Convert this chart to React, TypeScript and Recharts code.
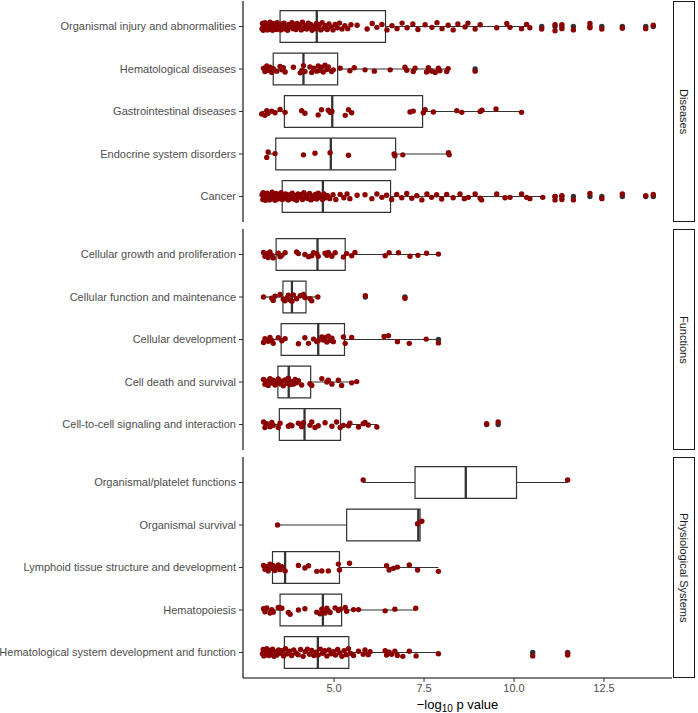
import React from 'react';
import { ComposedChart, Scatter, XAxis, YAxis, ReferenceArea, ReferenceLine } from 'recharts';

type Pt = [number, number];

// ---------- categories ----------
const diseaseCats = [
  'Organismal injury and abnormalities',
  'Hematological diseases',
  'Gastrointestinal diseases',
  'Endocrine system disorders',
  'Cancer',
];
const functionCats = [
  'Cellular growth and proliferation',
  'Cellular function and maintenance',
  'Cellular development',
  'Cell death and survival',
  'Cell-to-cell signaling and interaction',
];
const physioCats = [
  'Organismal/platelet functions',
  'Organismal survival',
  'Lymphoid tissue structure and development',
  'Hematopoiesis',
  'Hematological system development and function',
];

const facetLabels = ['Diseases', 'Functions', 'Physiological Systems'];
const xTicks = [5, 7.5, 10, 12.5];

// ---------- box statistics [lower whisker, q1, median, q3, upper whisker] ----------
const diseaseStats = [
  [3.0, 3.5, 4.52, 6.43, 10.44],
  [3.04, 3.31, 4.15, 5.1, 8.17],
  [2.99, 3.62, 4.95, 7.46, 10.21],
  [3.13, 3.38, 4.91, 6.71, 8.2],
  [3.0, 3.56, 4.69, 6.57, 10.8],
];
const functionStats = [
  [3.04, 3.39, 4.54, 5.31, 7.9],
  [3.04, 3.58, 3.83, 4.22, 4.55],
  [3.04, 3.53, 4.56, 5.29, 7.9],
  [3.04, 3.44, 3.74, 4.35, 5.63],
  [3.04, 3.48, 4.18, 5.18, 6.19],
];
const physioStats = [
  [5.81, 7.25, 8.66, 10.07, 11.49],
  [3.43, 5.35, 7.34, 7.39, 7.39],
  [3.04, 3.29, 3.64, 5.15, 7.9],
  [3.04, 3.5, 4.69, 5.21, 7.27],
  [3.01, 3.62, 4.55, 5.41, 7.9],
];

// ---------- boxplot outliers ----------
const diseaseOut = [
  [10.77, 11.14, 11.33, 11.65, 12.11, 12.44, 13.01, 13.66, 13.87],
  [8.92],
  [],
  [],
  [11.14, 11.33, 11.65, 12.11, 12.44, 13.01, 13.66, 13.87],
];
const functionOut = [[], [5.87, 6.97], [7.9], [], [9.24, 9.56]];
const physioOut = [[], [], [], [], [10.52, 11.49]];

// ---------- jittered points [value, vertical jitter] ----------
const injuryPts: Pt[] = [
  [3.0, 0.05], [3.01, -0.07], [3.03, 0.09], [3.04, -0.02], [3.06, 0.03], [3.08, -0.09], [3.09, 0.07], [3.11, -0.04],
  [3.13, 0.01], [3.15, 0.08], [3.17, -0.06], [3.19, 0.04], [3.22, -0.1], [3.24, 0.06], [3.27, -0.03], [3.29, 0.09],
  [3.31, -0.07], [3.34, 0.02], [3.37, -0.05], [3.4, 0.07], [3.42, -0.09], [3.45, 0.04], [3.48, -0.01], [3.52, 0.08],
  [3.55, -0.06], [3.58, 0.03], [3.61, -0.08], [3.64, 0.06], [3.68, -0.02], [3.71, 0.09], [3.75, -0.05], [3.79, 0.01],
  [3.83, -0.09], [3.86, 0.05], [3.9, -0.03], [3.94, 0.07], [3.97, -0.07], [4.01, 0.02], [4.05, -0.04], [4.09, 0.08],
  [4.12, -0.1], [4.16, 0.04], [4.2, -0.02], [4.24, 0.06], [4.28, -0.08], [4.31, 0.03], [4.35, -0.05], [4.39, 0.09],
  [4.43, -0.01], [4.47, 0.05], [4.51, -0.07], [4.55, 0.02], [4.59, -0.04], [4.63, 0.08], [4.67, -0.09], [4.72, 0.04],
  [4.76, -0.02], [4.81, 0.07], [4.86, -0.06], [4.92, 0.01], [4.97, 0.08], [5.03, -0.05], [5.09, 0.03], [5.15, -0.08],
  [5.22, 0.06], [5.3, -0.02], [5.38, 0.05], [5.47, -0.04],
  [5.64, -0.03], [5.92, 0.06], [6.06, -0.07], [6.19, 0.02], [6.33, -0.05], [6.47, 0.08], [6.61, -0.02], [6.75, 0.05],
  [6.89, -0.08], [7.03, 0.03], [7.19, -0.06], [7.33, 0.07], [7.53, -0.04], [7.72, 0.02], [7.86, -0.09], [8.0, 0.05],
  [8.17, -0.03], [8.31, 0.08], [8.44, -0.06], [8.64, 0.01], [8.72, -0.08], [8.92, 0.06], [9.06, -0.04], [9.52, 0.03],
  [9.8, -0.07], [9.89, 0.02], [10.21, 0.05], [10.35, -0.05], [10.44, 0.03],
  [10.77, 0.06], [11.14, -0.04], [11.14, 0.1], [11.33, 0.05], [11.33, -0.04], [11.65, 0.08], [12.11, 0.03],
  [12.11, -0.07], [12.44, 0.06], [13.01, 0.04], [13.66, 0.05], [13.87, -0.03],
];
const hemDisPts: Pt[] = [
  [3.04, -0.02], [3.08, 0.06], [3.13, -0.07], [3.17, 0.03], [3.22, -0.04], [3.27, 0.08], [3.31, -0.01], [3.41, 0.05],
  [3.5, -0.06], [3.55, 0.02], [3.59, -0.03], [3.64, 0.07], [3.87, -0.04], [4.06, 0.09], [4.1, 0.04], [4.15, -0.08],
  [4.19, 0.06], [4.33, -0.05], [4.38, 0.08], [4.43, -0.02], [4.52, 0.05], [4.56, -0.07], [4.61, 0.03], [4.65, -0.04],
  [4.7, 0.07], [4.75, -0.09], [4.8, 0.01], [4.84, -0.05], [4.93, 0.06], [4.98, 0.02], [5.17, -0.02], [5.44, 0.04],
  [5.56, -0.03], [5.86, 0.02], [6.12, 0.05], [6.56, 0.02], [6.97, -0.04], [7.02, 0.03], [7.2, 0.06], [7.25, -0.02],
  [7.57, 0.07], [7.62, -0.03], [7.71, 0.05], [7.81, 0.08], [7.9, -0.02], [7.94, 0.04], [8.13, 0.06], [8.17, -0.01],
  [8.92, 0.05],
];
const gastroPts: Pt[] = [
  [2.99, 0.06], [3.08, 0.09], [3.13, -0.02], [3.17, 0.04], [3.27, -0.01], [3.36, 0.03], [3.5, -0.05], [3.64, 0.02],
  [4.1, -0.02], [4.19, 0.04], [4.56, 0.08], [4.65, -0.04], [4.84, -0.03], [4.89, 0.02], [4.94, 0.0], [5.31, 0.09],
  [5.4, -0.04], [5.49, 0.03], [7.11, 0.01], [7.2, -0.01], [7.48, 0.03], [7.53, -0.04], [7.76, 0.01], [8.41, -0.02],
  [8.55, 0.02], [9.06, 0.0], [9.11, -0.03], [9.5, -0.06], [10.21, 0.02],
];
const endoPts: Pt[] = [
  [3.13, 0.08], [3.17, -0.05], [3.36, -0.01], [4.15, 0.02], [4.47, -0.02], [4.89, -0.03], [5.4, 0.03], [6.67, 0.0],
  [6.69, 0.04], [6.91, 0.02], [8.18, -0.03], [8.2, 0.02],
];
const cancerPts: Pt[] = [
  [3.0, -0.04], [3.02, 0.07], [3.03, -0.09], [3.05, 0.02], [3.07, -0.06], [3.09, 0.09], [3.1, -0.02], [3.12, 0.05],
  [3.14, -0.08], [3.16, 0.03], [3.18, -0.05], [3.2, 0.08], [3.23, -0.01], [3.25, 0.06], [3.28, -0.1], [3.3, 0.04],
  [3.33, -0.03], [3.36, 0.09], [3.39, -0.07], [3.41, 0.01], [3.44, 0.06], [3.47, -0.05], [3.5, 0.03], [3.53, -0.09],
  [3.56, 0.07], [3.59, -0.02], [3.62, 0.05], [3.66, -0.06], [3.69, 0.02], [3.73, 0.08], [3.77, -0.04], [3.8, 0.04],
  [3.84, -0.08], [3.88, 0.06], [3.92, -0.02], [3.96, 0.09], [4.0, -0.06], [4.04, 0.01], [4.08, -0.04], [4.12, 0.07],
  [4.16, -0.09], [4.2, 0.03], [4.24, -0.03], [4.28, 0.05], [4.32, -0.07], [4.36, 0.08], [4.4, -0.01], [4.44, 0.04],
  [4.48, -0.05], [4.52, 0.06], [4.56, -0.08], [4.6, 0.02], [4.64, -0.03], [4.68, 0.07], [4.72, -0.06], [4.77, 0.03],
  [4.82, -0.02], [4.88, 0.05], [4.97, -0.04], [5.05, 0.07], [5.17, -0.05], [5.27, 0.03], [5.36, -0.06], [5.44, 0.05],
  [5.64, -0.03],
  [5.86, -0.04], [6.05, 0.05], [6.19, -0.06], [6.33, 0.02], [6.46, -0.03], [6.6, 0.07], [6.74, -0.05], [6.88, 0.03],
  [7.02, -0.07], [7.16, 0.04], [7.3, -0.02], [7.44, 0.08], [7.58, -0.06], [7.71, 0.02], [7.85, -0.04], [7.99, 0.06],
  [8.13, -0.05], [8.31, 0.03], [8.5, -0.06], [8.62, 0.05], [8.73, 0.02], [8.92, -0.06], [9.06, 0.04], [9.1, 0.08],
  [9.52, -0.06], [9.75, 0.03], [9.89, 0.02], [10.21, -0.06], [10.35, 0.02], [10.44, 0.05], [10.8, 0.02],
  [11.14, 0.0], [11.14, 0.08], [11.33, -0.02], [11.33, 0.07], [11.65, 0.08], [12.11, -0.07], [12.44, 0.05],
  [13.01, -0.06], [13.66, -0.02], [13.87, -0.05],
];

const growthPts: Pt[] = [
  [3.04, -0.05], [3.08, 0.04], [3.13, -0.02], [3.17, 0.07], [3.22, -0.06], [3.27, 0.02], [3.31, 0.08], [3.45, -0.03],
  [3.5, 0.05], [3.55, 0.02], [3.64, -0.04], [3.96, -0.06], [4.01, -0.02], [4.19, 0.0], [4.29, 0.05], [4.38, 0.03],
  [4.43, -0.04], [4.52, -0.02], [4.56, 0.04], [4.75, -0.03], [4.8, 0.02], [4.84, -0.05], [4.89, 0.01], [4.94, 0.04],
  [5.03, -0.04], [5.26, 0.06], [5.35, -0.02], [5.49, 0.03], [5.58, -0.05], [6.42, 0.03], [6.53, -0.04], [6.79, -0.04],
  [7.11, 0.04], [7.33, 0.02], [7.57, -0.03], [7.9, -0.01],
];
const functionPts: Pt[] = [
  [3.04, 0.0], [3.27, 0.03], [3.31, 0.08], [3.36, -0.02], [3.5, -0.06], [3.59, 0.05], [3.64, 0.09], [3.69, 0.02],
  [3.73, -0.04], [3.78, 0.07], [3.83, 0.1], [3.87, -0.05], [3.96, 0.04], [4.06, -0.03], [4.15, -0.06], [4.19, 0.01],
  [4.33, 0.04], [4.38, 0.09], [4.55, 0.0], [5.87, -0.03], [6.97, 0.03],
];
const developPts: Pt[] = [
  [3.04, 0.07], [3.08, -0.02], [3.17, 0.04], [3.22, -0.05], [3.27, 0.02], [3.31, 0.09], [3.45, -0.04], [3.55, 0.03],
  [3.64, -0.02], [4.01, 0.1], [4.19, -0.04], [4.29, 0.09], [4.43, -0.01], [4.52, 0.05], [4.56, 0.03], [4.66, -0.06],
  [4.7, 0.01], [4.75, -0.04], [4.8, 0.06], [4.84, -0.08], [4.89, 0.02], [4.94, -0.03], [4.98, 0.05], [5.26, -0.06],
  [5.31, 0.09], [5.49, -0.05], [6.39, -0.07], [6.51, -0.09], [6.76, 0.05], [7.09, 0.09], [7.56, -0.01], [7.9, 0.08],
];
const deathPts: Pt[] = [
  [3.04, -0.06], [3.08, 0.05], [3.13, -0.02], [3.17, 0.08], [3.22, -0.08], [3.27, 0.02], [3.31, -0.04], [3.36, 0.07],
  [3.41, 0.0], [3.45, -0.07], [3.5, 0.04], [3.55, -0.02], [3.59, 0.09], [3.64, -0.05], [3.69, 0.03], [3.73, -0.09],
  [3.78, 0.06], [3.83, -0.01], [3.87, 0.05], [3.92, -0.06], [3.96, 0.02], [4.01, -0.03], [4.1, 0.07], [4.33, 0.04],
  [4.38, 0.08], [4.66, -0.08], [4.8, 0.0], [4.84, -0.04], [4.94, 0.05], [5.12, -0.04], [5.21, 0.08], [5.49, 0.02],
  [5.63, -0.01],
];
const signalPts: Pt[] = [
  [3.04, -0.06], [3.08, 0.07], [3.13, -0.02], [3.22, 0.05], [3.27, -0.05], [3.31, 0.02], [3.45, 0.07], [3.5, -0.03],
  [3.73, 0.04], [3.78, 0.01], [3.83, 0.03], [4.01, -0.03], [4.1, 0.05], [4.15, -0.04], [4.33, 0.02], [4.38, -0.06],
  [4.47, 0.07], [4.56, 0.03], [4.75, -0.04], [4.94, 0.04], [5.07, -0.06], [5.17, 0.07], [5.26, 0.02], [5.4, 0.03],
  [5.44, -0.03], [5.68, 0.06], [5.81, -0.02], [5.86, -0.05], [5.95, 0.01], [6.19, 0.06],
  [9.24, -0.02], [9.56, -0.06],
];

const plateletPts: Pt[] = [[5.81, -0.06], [11.49, -0.06]];
const survivalPts: Pt[] = [[3.43, 0.0], [7.32, -0.03], [7.44, -0.09]];
const lymphoidPts: Pt[] = [
  [3.04, -0.05], [3.08, 0.04], [3.13, -0.02], [3.17, 0.08], [3.22, -0.08], [3.27, 0.02], [3.31, -0.04], [3.36, 0.07],
  [3.41, 0.0], [3.45, -0.06], [3.5, 0.05], [3.55, -0.02], [3.64, 0.08], [4.01, -0.05], [4.19, 0.01], [4.29, -0.04],
  [4.52, 0.09], [4.66, 0.08], [4.84, 0.08], [5.12, -0.08], [5.15, 0.06], [5.43, -0.1], [6.46, -0.04], [6.53, 0.06],
  [6.65, 0.02], [6.76, -0.01], [7.09, -0.06], [7.32, 0.06], [7.9, 0.09],
];
const hematoPts: Pt[] = [
  [3.04, -0.03], [3.08, 0.04], [3.13, -0.05], [3.22, 0.07], [3.27, -0.01], [3.31, 0.05], [3.45, -0.06], [3.5, -0.05],
  [3.55, -0.04], [3.73, 0.06], [3.78, 0.1], [4.01, 0.0], [4.19, -0.03], [4.52, 0.05], [4.61, 0.09], [4.66, -0.02],
  [4.7, 0.03], [4.75, 0.07], [4.8, -0.04], [4.84, 0.02], [4.89, 0.06], [5.03, -0.05], [5.12, 0.01], [5.17, -0.02],
  [5.31, -0.06], [5.35, 0.03], [5.54, -0.01], [5.68, -0.01], [6.42, 0.02], [6.69, -0.02], [7.27, -0.04],
];
const hemSysPts: Pt[] = [
  [3.01, 0.03], [3.03, -0.07], [3.05, 0.08], [3.08, -0.03], [3.1, 0.05], [3.13, -0.09], [3.16, 0.01], [3.19, 0.07],
  [3.22, -0.05], [3.25, 0.04], [3.29, -0.08], [3.33, 0.09], [3.37, -0.02], [3.41, 0.06], [3.46, -0.06], [3.5, 0.02],
  [3.55, -0.04], [3.6, 0.08], [3.65, -0.09], [3.7, 0.03], [3.76, -0.03], [3.82, 0.07], [3.88, -0.06], [3.94, 0.01],
  [4.0, 0.05], [4.07, -0.07], [4.14, 0.09], [4.2, -0.02], [4.26, -0.08], [4.32, 0.04], [4.38, -0.05], [4.44, 0.07],
  [4.5, -0.01], [4.56, 0.06], [4.62, -0.08], [4.68, 0.02], [4.74, -0.04], [4.8, 0.08], [4.86, -0.06], [4.92, 0.03],
  [4.98, -0.02], [5.04, 0.06], [5.1, -0.07], [5.16, 0.01], [5.22, 0.09], [5.28, -0.04], [5.34, 0.05], [5.4, -0.09],
  [5.46, 0.02],
  [5.54, 0.07], [5.68, -0.03], [5.81, 0.04], [5.86, -0.06], [5.95, 0.05], [6.0, -0.02], [6.42, -0.04], [6.46, 0.06],
  [6.53, -0.01], [6.6, 0.04], [6.69, -0.03], [6.76, 0.07], [6.91, 0.09], [7.09, -0.03], [7.28, 0.08], [7.9, 0.03],
  [10.52, 0.08], [11.49, 0.02], [11.49, 0.06],
];

const diseasePts = [injuryPts, hemDisPts, gastroPts, endoPts, cancerPts];
const functionPtsAll = [growthPts, functionPts, developPts, deathPts, signalPts];
const physioPts = [plateletPts, survivalPts, lymphoidPts, hematoPts, hemSysPts];

// ---------- styling ----------
const FONT = '"Liberation Sans", Arial, Helvetica, sans-serif';
const X_DOMAIN: [number, number] = [2.47, 14.39];
const Y_DOMAIN: [number, number] = [0.4, 5.6];
const BOX_HALF = 0.375;
const RED = '#8B0000';
const BOX_STROKE = '#333333';
const PANEL_H = 221;

const redDot = (p: any) => <circle cx={p.cx} cy={p.cy} r={2.7} fill={RED} />;
const grayDot = (p: any) => <circle cx={p.cx} cy={p.cy} r={2.7} fill="#333333" />;

type PanelProps = {
  cats: string[];
  stats: number[][];
  points: Pt[][];
  outliers: number[][];
  top: number;
  showX: boolean;
};

function Panel({ cats, stats, points, outliers, top, showX }: PanelProps) {
  const redData = points.flatMap((row, i) => row.map(([x, dy]) => ({ x, y: i + 1 + dy })));
  const grayData = outliers.flatMap((row, i) => row.map((x) => ({ x, y: i + 1 })));
  const xAxisH = 35;
  const height = 1 + PANEL_H + (showX ? xAxisH : 0);
  const yTick = (p: any) => (
    <text
      x={p.x}
      y={p.y}
      dy="0.355em"
      textAnchor="end"
      fontSize={11}
      fill="#4d4d4d"
      fontFamily={FONT}
    >
      {cats[p.payload.value - 1] ?? ''}
    </text>
  );
  return (
    <div style={{ position: 'absolute', left: 0, top }}>
      <ComposedChart width={672} height={height} margin={{ top: 1, right: 0, bottom: 0, left: 0 }}>
        <XAxis
          type="number"
          dataKey="x"
          domain={X_DOMAIN}
          allowDataOverflow
          hide={!showX}
          height={xAxisH}
          ticks={xTicks}
          tickFormatter={(v: number) => v.toFixed(1)}
          tick={{ fontSize: 11, fill: '#4d4d4d', fontFamily: FONT }}
          tickSize={4}
          tickMargin={2}
          tickLine={{ stroke: '#333333' }}
          axisLine={{ stroke: '#000000', strokeWidth: 1.1 }}
        />
        <YAxis
          type="number"
          dataKey="y"
          domain={Y_DOMAIN}
          allowDataOverflow
          reversed
          width={243}
          ticks={[1, 2, 3, 4, 5]}
          interval={0}
          tick={yTick}
          tickSize={4}
          tickMargin={3}
          tickLine={{ stroke: '#333333' }}
          axisLine={{ stroke: '#000000', strokeWidth: 1.1 }}
        />
        {stats.map(([lo, q1, med, q3, hi], i) => (
          <ReferenceLine
            key={`wl${i}`}
            segment={[{ x: lo, y: i + 1 }, { x: q1, y: i + 1 }]}
            stroke={BOX_STROKE}
            strokeWidth={1.2}
          />
        ))}
        {stats.map(([lo, q1, med, q3, hi], i) => (
          <ReferenceLine
            key={`wh${i}`}
            segment={[{ x: q3, y: i + 1 }, { x: hi, y: i + 1 }]}
            stroke={BOX_STROKE}
            strokeWidth={1.2}
          />
        ))}
        {stats.map(([lo, q1, med, q3, hi], i) => (
          <ReferenceArea
            key={`b${i}`}
            x1={q1}
            x2={q3}
            y1={i + 1 - BOX_HALF}
            y2={i + 1 + BOX_HALF}
            fill="#ffffff"
            fillOpacity={1}
            stroke={BOX_STROKE}
            strokeWidth={1.2}
          />
        ))}
        {stats.map(([lo, q1, med, q3, hi], i) => (
          <ReferenceLine
            key={`m${i}`}
            segment={[{ x: med, y: i + 1 - BOX_HALF }, { x: med, y: i + 1 + BOX_HALF }]}
            stroke={BOX_STROKE}
            strokeWidth={2.3}
          />
        ))}
        <Scatter data={grayData} shape={grayDot} isAnimationActive={false} />
        <Scatter data={redData} shape={redDot} isAnimationActive={false} />
      </ComposedChart>
    </div>
  );
}

function Strip({ label, top }: { label: string; top: number }) {
  return (
    <div
      style={{
        position: 'absolute',
        left: 673,
        top,
        width: 22,
        height: PANEL_H,
        boxSizing: 'border-box',
        border: '1.2px solid #1a1a1a',
        background: '#ffffff',
        display: 'flex',
        alignItems: 'center',
        justifyContent: 'center',
      }}
    >
      <span
        style={{
          writingMode: 'vertical-rl',
          fontFamily: FONT,
          fontSize: 11,
          color: '#1a1a1a',
          whiteSpace: 'nowrap',
        }}
      >
        {label}
      </span>
    </div>
  );
}

export default function App() {
  return (
    <div style={{ position: 'absolute', left: 0, top: 0, width: 698, height: 713, background: '#fff' }}>
      <Panel cats={diseaseCats} stats={diseaseStats} points={diseasePts} outliers={diseaseOut} top={0} showX={false} />
      <Panel cats={functionCats} stats={functionStats} points={functionPtsAll} outliers={functionOut} top={228} showX={false} />
      <Panel cats={physioCats} stats={physioStats} points={physioPts} outliers={physioOut} top={456} showX={true} />
      <Strip label={facetLabels[0]} top={1} />
      <Strip label={facetLabels[1]} top={229} />
      <Strip label={facetLabels[2]} top={457} />
      <div
        style={{
          position: 'absolute',
          left: 243,
          width: 429,
          top: 697,
          textAlign: 'center',
          fontFamily: FONT,
          fontSize: 13,
          color: '#000',
          lineHeight: '15px',
        }}
      >
        −log<sub style={{ fontSize: 10, verticalAlign: '-3px', lineHeight: 0 }}>10</sub> p value
      </div>
    </div>
  );
}
